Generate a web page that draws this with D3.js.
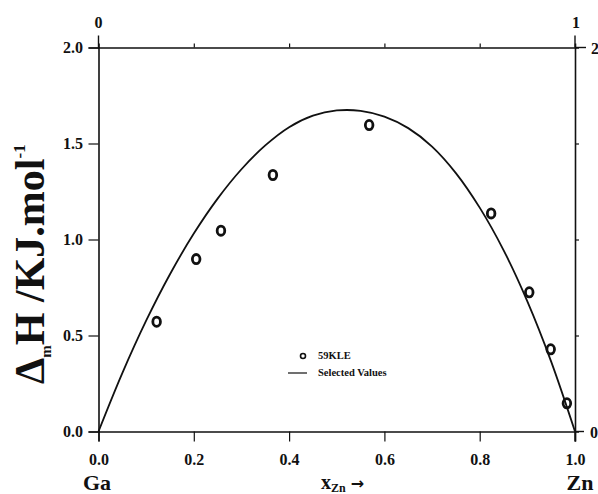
<!DOCTYPE html>
<html>
<head>
<meta charset="utf-8">
<script src="https://cdn.jsdelivr.net/npm/d3@7"></script>
<style>
  body { margin: 0; background: #fff; }
  svg { display: block; font-family: "Liberation Serif", "DejaVu Serif", serif; font-weight: bold; }
</style>
</head>
<body>
<svg id="chart" width="598" height="494"></svg>
<script>
/* ---------- data ---------- */
// 59KLE measurements
const obsX = [0.122, 0.205, 0.257, 0.366, 0.568, 0.824, 0.904, 0.949, 0.983];
const obsY = [0.572, 0.898, 1.046, 1.336, 1.596, 1.136, 0.725, 0.428, 0.147];

// selected values
const selX = [0, 0.05, 0.10, 0.15, 0.20, 0.25, 0.30, 0.35, 0.40, 0.45, 0.50,
              0.55, 0.60, 0.65, 0.70, 0.75, 0.80, 0.85, 0.90, 0.95, 1.0];
const selY = [0, 0.304, 0.577, 0.819, 1.031, 1.213, 1.366, 1.490, 1.585, 1.645, 1.672,
              1.670, 1.640, 1.580, 1.484, 1.346, 1.166, 0.945, 0.678, 0.364, 0];

const xTicks = [0, 0.2, 0.4, 0.6, 0.8, 1.0];
const yTicks = [0, 0.5, 1.0, 1.5, 2.0];

/* ---------- layout ---------- */
const L = 98.5, R = 575, T = 47.5, B = 431.5;
const svg = d3.select('#chart');
const x = d3.scaleLinear().domain([0, 1]).range([L, R]);
const y = d3.scaleLinear().domain([0, 2]).range([B, T]);

const ink = '#111';

// bottom axis
const gB = svg.append('g').attr('transform', `translate(0,${B})`)
  .call(d3.axisBottom(x).tickValues(xTicks).tickSize(10).tickFormat(d3.format('.1f')));
// left axis
const gL = svg.append('g').attr('transform', `translate(${L},0)`)
  .call(d3.axisLeft(y).tickValues(yTicks).tickSize(10).tickFormat(d3.format('.1f')));
// top axis
const gT = svg.append('g').attr('transform', `translate(0,${T})`)
  .call(d3.axisTop(x).tickValues([0.2, 0.4, 0.6, 0.8]).tickSize(4).tickFormat(''));
// right axis
const gR = svg.append('g').attr('transform', `translate(${R},0)`)
  .call(d3.axisRight(y).tickValues([0.5, 1.0, 1.5]).tickSize(4).tickFormat(''));

[gB, gL, gT, gR].forEach(g => {
  g.select('.domain').attr('stroke', ink).attr('stroke-width', 1.6);
  g.selectAll('.tick line').attr('stroke', ink).attr('stroke-width', 1.2);
  g.selectAll('.tick text').attr('fill', ink)
    .attr('font-family', '"Liberation Serif", serif').attr('font-weight', 'bold').attr('font-size', 16);
});
gB.selectAll('.tick text').attr('dy', '1.3em');
gL.selectAll('.tick text').attr('dx', '-0.15em');

// corner ticks of the frame
const corner = (x1, y1, x2, y2) => svg.append('line')
  .attr('x1', x1).attr('y1', y1).attr('x2', x2).attr('y2', y2)
  .attr('stroke', ink).attr('stroke-width', 1.4);
corner(L, T - 12, L, T);
corner(R, T - 12, R, T);
corner(R, T, R + 11, T);
corner(R, B, R + 9, B);
corner(R, B, R, B + 10);

// top and right end labels
const endLabel = (tx, ty, s, anchor) => svg.append('text').attr('x', tx).attr('y', ty)
  .attr('text-anchor', anchor).attr('font-size', 16).attr('fill', ink).text(s);
endLabel(L, 28, '0', 'middle');
endLabel(R + 1, 28, '1', 'middle');
endLabel(591, T + 6, '2', 'start');
endLabel(590, B + 6, '0', 'start');

// element labels
svg.append('text').attr('x', 97).attr('y', 490).attr('text-anchor', 'middle')
  .attr('font-size', 22).attr('fill', ink).text('Ga');
svg.append('text').attr('x', 580).attr('y', 490).attr('text-anchor', 'middle')
  .attr('font-size', 22).attr('fill', ink).text('Zn');
const xl = svg.append('text').attr('x', 321).attr('y', 489).attr('font-size', 20).attr('fill', ink);
xl.append('tspan').text('x');
xl.append('tspan').attr('font-size', 12).attr('dy', 3).text('Zn');
xl.append('tspan').attr('dy', -3).attr('dx', 5).attr('font-family', '"DejaVu Sans", sans-serif').attr('font-size', 16).text('→');

// y label
const yl = svg.append('text').attr('transform', 'translate(44,384) rotate(-90)')
  .attr('text-anchor', 'start').attr('font-size', 42).attr('fill', ink);
yl.append('tspan').text('Δ');
yl.append('tspan').attr('font-size', 15).attr('dy', 7).text('m');
yl.append('tspan').attr('dy', -7).text('H /KJ.mol');
yl.append('tspan').attr('font-size', 17).attr('dy', -19).text('-1');

/* ---------- marks ---------- */
const line = d3.line().x(d => x(d[0])).y(d => y(d[1])).curve(d3.curveCatmullRom);
svg.append('path').datum(d3.zip(selX, selY)).attr('d', line)
  .attr('fill', 'none').attr('stroke', ink).attr('stroke-width', 1.8);

svg.append('g').selectAll('ellipse').data(d3.zip(obsX, obsY)).join('ellipse')
  .attr('cx', d => x(d[0])).attr('cy', d => y(d[1]))
  .attr('rx', 3.8).attr('ry', 4.6)
  .attr('fill', 'none').attr('stroke', ink).attr('stroke-width', 2.8);

/* ---------- legend ---------- */
svg.append('circle').attr('cx', 303).attr('cy', 356).attr('r', 2.5)
  .attr('fill', 'none').attr('stroke', ink).attr('stroke-width', 1.6);
svg.append('text').attr('x', 318).attr('y', 359).attr('font-size', 10.5).attr('fill', ink).text('59KLE');
svg.append('line').attr('x1', 288).attr('x2', 307).attr('y1', 373).attr('y2', 373)
  .attr('stroke', ink).attr('stroke-width', 1.2);
svg.append('text').attr('x', 318).attr('y', 376).attr('font-size', 10.5).attr('fill', ink).text('Selected Values');
</script>
</body>
</html>
